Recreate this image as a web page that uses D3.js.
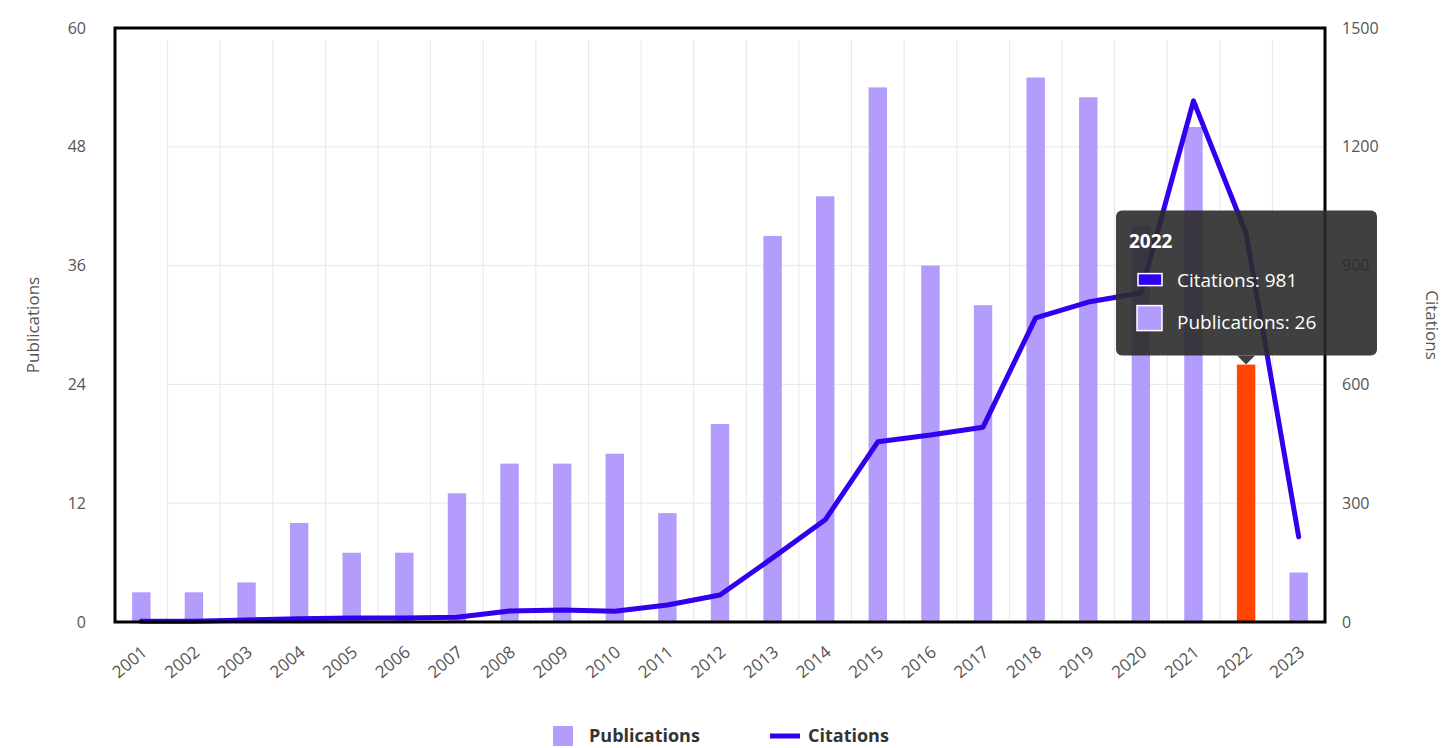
<!DOCTYPE html>
<html>
<head>
<meta charset="utf-8">
<script src="https://cdn.jsdelivr.net/npm/d3@7"></script>
<style>
  html, body { margin: 0; padding: 0; background: #fff; }
  svg { display: block; font-family: "Open Sans", "DejaVu Sans", sans-serif; }
</style>
</head>
<body>
<svg id="chart" width="1447" height="748"></svg>
<script>
const years = ["2001","2002","2003","2004","2005","2006","2007","2008","2009","2010","2011","2012","2013","2014","2015","2016","2017","2018","2019","2020","2021","2022","2023"];
const publications = [3,3,4,10,7,7,13,16,16,17,11,20,39,43,54,36,32,55,53,40,50,26,5];
const citations = [2,2,5,8,10,10,12,28,30,27,43,68,162,258,455,472,492,768,808,831,1316,981,215];
const leftTicks = [0,12,24,36,48,60];
const rightTicks = [0,300,600,900,1200,1500];
const highlightYear = "2022";

const svg = d3.select("#chart");
const L = 115, R = 1325, T = 28, B = 622;
const barColor = "#b39cfb", lineColor = "#3300ee", hiColor = "#ff4500";

const x = d3.scaleBand().domain(years).range([L, R]).padding(0);
const yL = d3.scaleLinear().domain([0, 60]).range([B, T]);
const yR = d3.scaleLinear().domain([0, 1500]).range([B, T]);
const bw = x.bandwidth();
const barW = bw * 0.35;

// gridlines
const grid = svg.append("g");
grid.selectAll("line.v").data(years.slice(1)).enter().append("line")
  .attr("x1", d => x(d)).attr("x2", d => x(d))
  .attr("y1", T + 12).attr("y2", B)
  .attr("stroke", "#e8e8e8").attr("stroke-width", 1);
grid.selectAll("line.h").data(leftTicks.slice(1, -1)).enter().append("line")
  .attr("x1", L + bw).attr("x2", R)
  .attr("y1", d => yL(d)).attr("y2", d => yL(d))
  .attr("stroke", "#e8e8e8").attr("stroke-width", 1);

// bars
svg.append("g").selectAll("rect").data(years).enter().append("rect")
  .attr("x", d => x(d) + (bw - barW) / 2)
  .attr("y", (d, i) => yL(publications[i]))
  .attr("width", barW)
  .attr("height", (d, i) => B - yL(publications[i]))
  .attr("fill", d => d === highlightYear ? hiColor : barColor);

// line
const line = d3.line()
  .x((d, i) => x(years[i]) + bw / 2)
  .y(d => yR(d));
svg.append("path").datum(citations)
  .attr("d", line)
  .attr("fill", "none")
  .attr("stroke", lineColor)
  .attr("stroke-width", 5)
  .attr("stroke-linejoin", "round")
  .attr("stroke-linecap", "round");

// frame
svg.append("rect").attr("x", L).attr("y", T).attr("width", R - L).attr("height", B - T)
  .attr("fill", "none").attr("stroke", "#000").attr("stroke-width", 3);

// left axis
const axL = svg.append("g").attr("transform", `translate(${L},0)`)
  .call(d3.axisLeft(yL).tickValues(leftTicks).tickSize(0).tickPadding(29));
axL.select(".domain").remove();
axL.selectAll("text").attr("font-size", 16).attr("fill", "#555").attr("font-family", "Open Sans, sans-serif");

// right axis
const axR = svg.append("g").attr("transform", `translate(${R},0)`)
  .call(d3.axisRight(yR).tickValues(rightTicks).tickFormat(d3.format("d")).tickSize(0).tickPadding(17));
axR.select(".domain").remove();
axR.selectAll("text").attr("font-size", 16).attr("fill", "#555").attr("font-family", "Open Sans, sans-serif");

// x axis labels
const axB = svg.append("g").attr("transform", `translate(0,${B})`)
  .call(d3.axisBottom(x).tickSize(0).tickPadding(0));
axB.select(".domain").remove();
axB.selectAll("text")
  .attr("font-size", 17).attr("fill", "#555").attr("font-family", "Open Sans, sans-serif")
  .attr("text-anchor", "end")
  .attr("dy", 0)
  .attr("transform", "translate(7,32) rotate(-40)");

// axis titles
svg.append("text").attr("transform", `translate(39,${(T + B) / 2}) rotate(-90)`)
  .attr("text-anchor", "middle").attr("font-size", 17).attr("fill", "#555").text("Publications");
svg.append("text").attr("transform", `translate(1426,${(T + B) / 2}) rotate(90)`)
  .attr("text-anchor", "middle").attr("font-size", 17).attr("fill", "#555").text("Citations");

// legend
const lg = svg.append("g");
lg.append("rect").attr("x", 553).attr("y", 726).attr("width", 20).attr("height", 20).attr("fill", barColor);
lg.append("text").attr("x", 589).attr("y", 742).attr("font-size", 18).attr("font-weight", "bold").attr("fill", "#333").text("Publications");
lg.append("line").attr("x1", 770).attr("x2", 800).attr("y1", 736).attr("y2", 736).attr("stroke", lineColor).attr("stroke-width", 5);
lg.append("text").attr("x", 808).attr("y", 742).attr("font-size", 18).attr("font-weight", "bold").attr("fill", "#333").text("Citations");

// tooltip
const hi = years.indexOf(highlightYear);
const tipX = x(highlightYear) + bw / 2;
const tipBottom = yL(publications[hi]) - 9;
const tt = svg.append("g");
const tw = 261, th = 145;
const tx0 = 1116, ty0 = tipBottom - th;
tt.append("rect").attr("x", tx0).attr("y", ty0).attr("width", tw).attr("height", th).attr("rx", 6)
  .attr("fill", "#2b2b2b").attr("fill-opacity", 0.9);
tt.append("path").attr("d", `M${tipX - 9},${tipBottom} L${tipX},${tipBottom + 9} L${tipX + 9},${tipBottom} Z`)
  .attr("fill", "#2b2b2b").attr("fill-opacity", 0.9);
tt.append("text").attr("x", tx0 + 13).attr("y", ty0 + 37).attr("font-size", 19).attr("font-weight", "bold").attr("fill", "#fff").text(highlightYear);
tt.append("rect").attr("x", tx0 + 22).attr("y", ty0 + 63).attr("width", 24).attr("height", 12)
  .attr("fill", lineColor).attr("stroke", "#fff").attr("stroke-width", 1.5);
tt.append("text").attr("x", tx0 + 61).attr("y", ty0 + 76).attr("font-size", 19).attr("fill", "#fff").text("Citations: " + citations[hi]);
tt.append("rect").attr("x", tx0 + 21).attr("y", ty0 + 95).attr("width", 25).attr("height", 25)
  .attr("fill", barColor).attr("stroke", "#fff").attr("stroke-width", 1.5);
tt.append("text").attr("x", tx0 + 61).attr("y", ty0 + 118).attr("font-size", 19).attr("fill", "#fff").text("Publications: " + publications[hi]);
</script>
</body>
</html>
